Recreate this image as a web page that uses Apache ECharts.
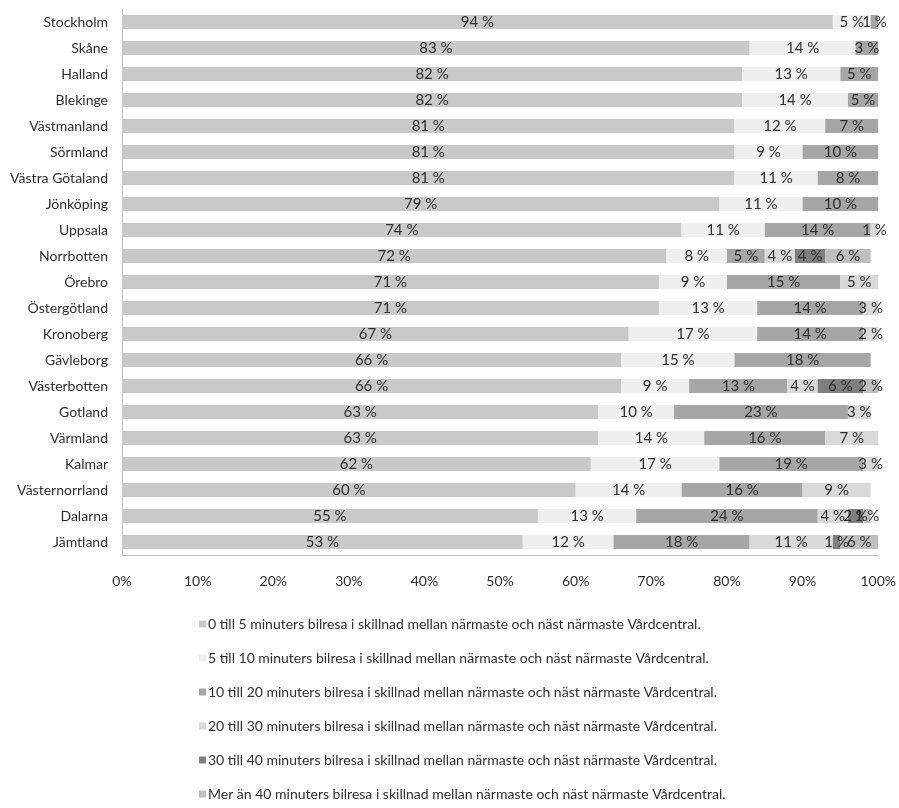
<!DOCTYPE html>
<html>
<head>
<meta charset="utf-8">
<script src="https://cdn.jsdelivr.net/npm/echarts@6/dist/echarts.min.js"></script>
<style>
  html, body { margin: 0; padding: 0; background: #ffffff; }
  #chart { width: 899px; height: 808px; }
</style>
</head>
<body>
<div id="chart"></div>
<script>
// Län, top to bottom
const regions = [
  'Stockholm', 'Skåne', 'Halland', 'Blekinge', 'Västmanland', 'Sörmland',
  'Västra Götaland', 'Jönköping', 'Uppsala', 'Norrbotten', 'Örebro',
  'Östergötland', 'Kronoberg', 'Gävleborg', 'Västerbotten', 'Gotland',
  'Värmland', 'Kalmar', 'Västernorrland', 'Dalarna', 'Jämtland'
];

// Share of population (%) per extra travel-time band
const min0to5   = [94, 83, 82, 82, 81, 81, 81, 79, 74, 72, 71, 71, 67, 66, 66, 63, 63, 62, 60, 55, 53];
const min5to10  = [5, 14, 13, 14, 12, 9, 11, 11, 11, 8, 9, 13, 17, 15, 9, 10, 14, 17, 14, 13, 12];
const min10to20 = [1, 3, 5, 5, 7, 10, 8, 10, 14, 5, 15, 14, 14, 18, 13, 23, 16, 19, 16, 24, 18];
const min20to30 = [null, null, null, null, null, null, null, null, 1, 4, 5, 3, 2, null, 4, 3, 7, 3, 9, 4, 11];
const min30to40 = [null, null, null, null, null, null, null, null, null, 4, null, null, null, null, 6, null, null, null, null, 2, 1];
const minOver40 = [null, null, null, null, null, null, null, null, null, 6, null, null, null, null, 2, null, null, null, null, 1, 6];

const seriesNames = [
  '0 till 5 minuters bilresa i skillnad mellan närmaste och näst närmaste Vårdcentral.',
  '5 till 10 minuters bilresa i skillnad mellan närmaste och näst närmaste Vårdcentral.',
  '10 till 20 minuters bilresa i skillnad mellan närmaste och näst närmaste Vårdcentral.',
  '20 till 30 minuters bilresa i skillnad mellan närmaste och näst närmaste Vårdcentral.',
  '30 till 40 minuters bilresa i skillnad mellan närmaste och näst närmaste Vårdcentral.',
  'Mer än 40 minuters bilresa i skillnad mellan närmaste och näst närmaste Vårdcentral.'
];
const seriesData = [min0to5, min5to10, min10to20, min20to30, min30to40, minOver40];
const xTicks = [0, 10, 20, 30, 40, 50, 60, 70, 80, 90, 100];

const colors = ['#c9c9c9', '#efefef', '#a6a6a6', '#d9d9d9', '#7f7f7f', '#bfbfbf'];
const FONT = 'Lato, "Open Sans", sans-serif';
const TEXT = '#2e2e2e';

const chart = echarts.init(document.getElementById('chart'), null, { renderer: 'canvas' });

chart.setOption({
  animation: false,
  backgroundColor: '#ffffff',
  color: colors,
  textStyle: { fontFamily: FONT },
  grid: { left: 122, right: 19, top: 9, bottom: 808 - 555, containLabel: false },
  xAxis: {
    type: 'value',
    min: xTicks[0],
    max: xTicks[xTicks.length - 1],
    interval: 10,
    axisLine: { show: true, lineStyle: { color: '#bfbfbf', width: 1 } },
    axisTick: { show: false },
    splitLine: { show: false },
    axisLabel: {
      margin: 19,
      color: TEXT,
      fontSize: 14,
      fontFamily: FONT,
      formatter: '{value}%'
    }
  },
  yAxis: {
    type: 'category',
    data: regions,
    inverse: true,
    axisLine: { show: true, lineStyle: { color: '#bfbfbf', width: 1 } },
    axisTick: { show: false },
    axisLabel: { margin: 14, color: TEXT, fontSize: 14, fontFamily: FONT }
  },
  legend: {
    orient: 'vertical',
    left: 194,
    top: 612,
    itemWidth: 7,
    itemHeight: 7,
    itemGap: 20,
    icon: 'rect',
    textStyle: { color: TEXT, fontSize: 14, fontFamily: FONT, padding: [0, 0, 0, -3] },
    data: seriesNames
  },
  series: seriesNames.map((name, i) => ({
    name: name,
    type: 'bar',
    stack: 'total',
    barWidth: 14,
    data: seriesData[i],
    itemStyle: { color: colors[i] },
    label: {
      show: true,
      position: 'inside',
      color: TEXT,
      fontSize: 15,
      fontFamily: FONT,
      formatter: p => (p.value == null ? '' : p.value + ' %')
    }
  }))
});
</script>
</body>
</html>
